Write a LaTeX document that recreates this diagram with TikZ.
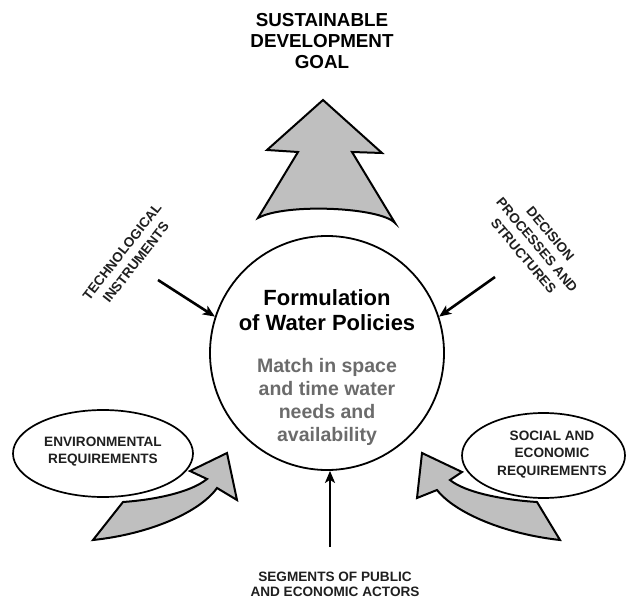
\documentclass[tikz,border=0pt]{standalone}
\usepackage{fontspec}
\setmainfont{Liberation Sans}
\usetikzlibrary{arrows.meta,shapes.geometric}

\begin{document}
\begin{tikzpicture}[
  x=1pt, y=-1pt,
  lbl/.style={font=\bfseries\fontsize{13.6}{17.5}\selectfont, align=center,
              inner sep=0pt, text=black!88},
  bigarrow/.style={draw, line width=2pt, fill=black!25, line join=miter},
  reqbox/.style={draw, ellipse, line width=1.7pt, fill=white, inner sep=0pt},
  flow/.style={-{Stealth[length=12pt,width=10pt,inset=3pt]}, line width=2.6pt},
]
  \useasboundingbox (0,0) rectangle (628,601);

  % goal
  \node[lbl, font=\bfseries\fontsize{18.8}{21}\selectfont, text=black] (goal) at (322,41)
    {SUSTAINABLE\\DEVELOPMENT\\GOAL};
  \draw[bigarrow] (323,100) -- (382,153) -- (352,152) -- (395,223)
    .. controls (380,207) and (285,203) .. (258,218)
    -- (298,152) -- (267,150) -- cycle;

  % policy circle
  \node[draw, circle, line width=1.8pt, minimum size=234pt, inner sep=0pt] (policy) at (327,353) {};
  \node[lbl, font=\bfseries\fontsize{22}{25}\selectfont, text=black] (title) at (327,310)
    {Formulation\\of Water Policies};
  \node[lbl, font=\bfseries\fontsize{19.5}{23.3}\selectfont, text=black!58] (match) at (327,402)
    {Match in space\\and time water\\needs and\\availability};

  % side inputs
  \node[lbl, rotate=52] (tech) at (129,257) {TECHNOLOGICAL\\INSTRUMENTS};
  \coordinate (techtail) at (158,280);
  \draw[flow] (techtail) -- (policy.162);

  \node[lbl, rotate=-50] (decision) at (537,245) {DECISION\\PROCESSES AND\\STRUCTURES};
  \coordinate (dectail) at (495,277);
  \draw[flow] (dectail) -- (policy.18);

  \node[lbl, font=\bfseries\fontsize{13.6}{15}\selectfont] (actors) at (335,584)
    {SEGMENTS OF PUBLIC\\AND ECONOMIC ACTORS};
  \coordinate (actortail) at (330,547);
  \draw[flow] (actortail) -- (actortail |- policy.south);

  % requirements with curved arrows
  \draw[bigarrow] (93,540) -- (123,502)
    .. controls (152,500) and (190,493) .. (207,479)
    -- (190,471) -- (227,453) -- (237,500) -- (217,488)
    .. controls (200,512) and (150,534) .. (93,540) -- cycle;
  \node[reqbox, minimum width=180pt, minimum height=87pt] (env) at (103,453.5) {};
  \node[lbl] (envtext) at (103,451.5) {ENVIRONMENTAL\\REQUIREMENTS};

  \draw[bigarrow] (560,540) -- (537,502)
    .. controls (505,500) and (466,493) .. (450,480)
    -- (462,472) -- (422,453) -- (417,498) -- (437,490)
    .. controls (455,513) and (505,534) .. (560,540) -- cycle;
  \node[reqbox, minimum width=163pt, minimum height=85pt] (social) at (543.5,455.5) {};
  \node[lbl] (socialtext) at (552,454.5) {SOCIAL AND\\ECONOMIC\\REQUIREMENTS};
\end{tikzpicture}
\end{document}
